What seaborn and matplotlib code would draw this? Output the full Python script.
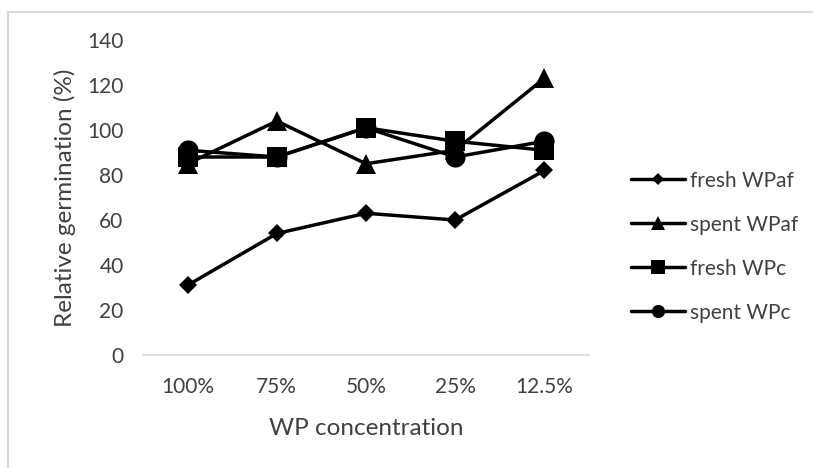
import matplotlib
matplotlib.use("Agg")
import matplotlib.pyplot as plt
import seaborn as sns
import pandas as pd
from matplotlib.patches import Rectangle

concentrations = ["100%", "75%", "50%", "25%", "12.5%"]
fresh_wpaf = [31, 54, 63, 60, 82]
spent_wpaf = [85, 104, 85, 91, 123]
fresh_wpc = [88, 88, 101, 95, 91]
spent_wpc = [91, 88, 101, 88, 95]
series_names = ["fresh WPaf", "spent WPaf", "fresh WPc", "spent WPc"]
y_ticks = [0, 20, 40, 60, 80, 100, 120, 140]

rows = []
for name, vals in zip(series_names, [fresh_wpaf, spent_wpaf, fresh_wpc, spent_wpc]):
    for c, v in zip(concentrations, vals):
        rows.append({"conc": c, "value": v, "series": name})
df = pd.DataFrame(rows)
df["conc"] = pd.Categorical(df["conc"], categories=concentrations, ordered=True)

sns.set_style("white")
plt.rcParams["font.family"] = ["Lato", "DejaVu Sans"]
txt = "#404040"

fig = plt.figure(figsize=(8.13, 4.68), dpi=100)
ax = fig.add_axes([143/813, 1-355/468, (589-143)/813, (355-40)/468])

markers = {"fresh WPaf": "D", "spent WPaf": "^", "fresh WPc": "s", "spent WPc": "o"}
sns.lineplot(data=df, x="conc", y="value", hue="series", style="series",
             markers=markers, dashes=False, palette=["black"] * 4,
             hue_order=series_names, style_order=series_names,
             sort=False, linewidth=2.5, markersize=14, markeredgewidth=0,
             ax=ax)

size_by_marker = {"D": 8.8, "^": 14.5, "s": 15, "o": 14.5}
for ln in ax.lines:
    m = ln.get_marker()
    if m in size_by_marker:
        ln.set_markersize(size_by_marker[m])

ax.set_xlim(-0.5, 4.5)
ax.set_ylim(0, 140)
ax.set_yticks(y_ticks)
ax.tick_params(axis="y", length=0, labelsize=15, colors=txt, pad=14)
ax.tick_params(axis="x", length=0, labelsize=15, colors=txt, pad=16)
for s in ["top", "right", "left"]:
    ax.spines[s].set_visible(False)
ax.spines["bottom"].set_color("#d9d9d9")
ax.spines["bottom"].set_linewidth(1.2)
ax.set_xlabel("WP concentration", fontsize=17.5, color=txt, labelpad=15)
ax.set_ylabel("Relative germination (%)", fontsize=17.5, color=txt, labelpad=8)

handles, labels = ax.get_legend_handles_labels()
leg = ax.legend(handles, labels, loc="upper left", bbox_to_anchor=(612/813, 1-152/468),
                bbox_transform=fig.transFigure, frameon=False, fontsize=15,
                labelspacing=1.15, handlelength=2.6, handletextpad=0.25)
leg_sizes = {"D": 6.2, "^": 9.5, "s": 9.5, "o": 9.5}
for h in leg.legend_handles:
    m = h.get_marker()
    if m in leg_sizes:
        h.set_markersize(leg_sizes[m])
for t in leg.get_texts():
    t.set_color(txt)

fig.patches.append(Rectangle((8/813, -0.05), 1.0, 1-12/468 + 0.05,
                             transform=fig.transFigure, fill=False,
                             edgecolor="#d9d9d9", linewidth=1.5))

fig.savefig("out.png", dpi=100)
